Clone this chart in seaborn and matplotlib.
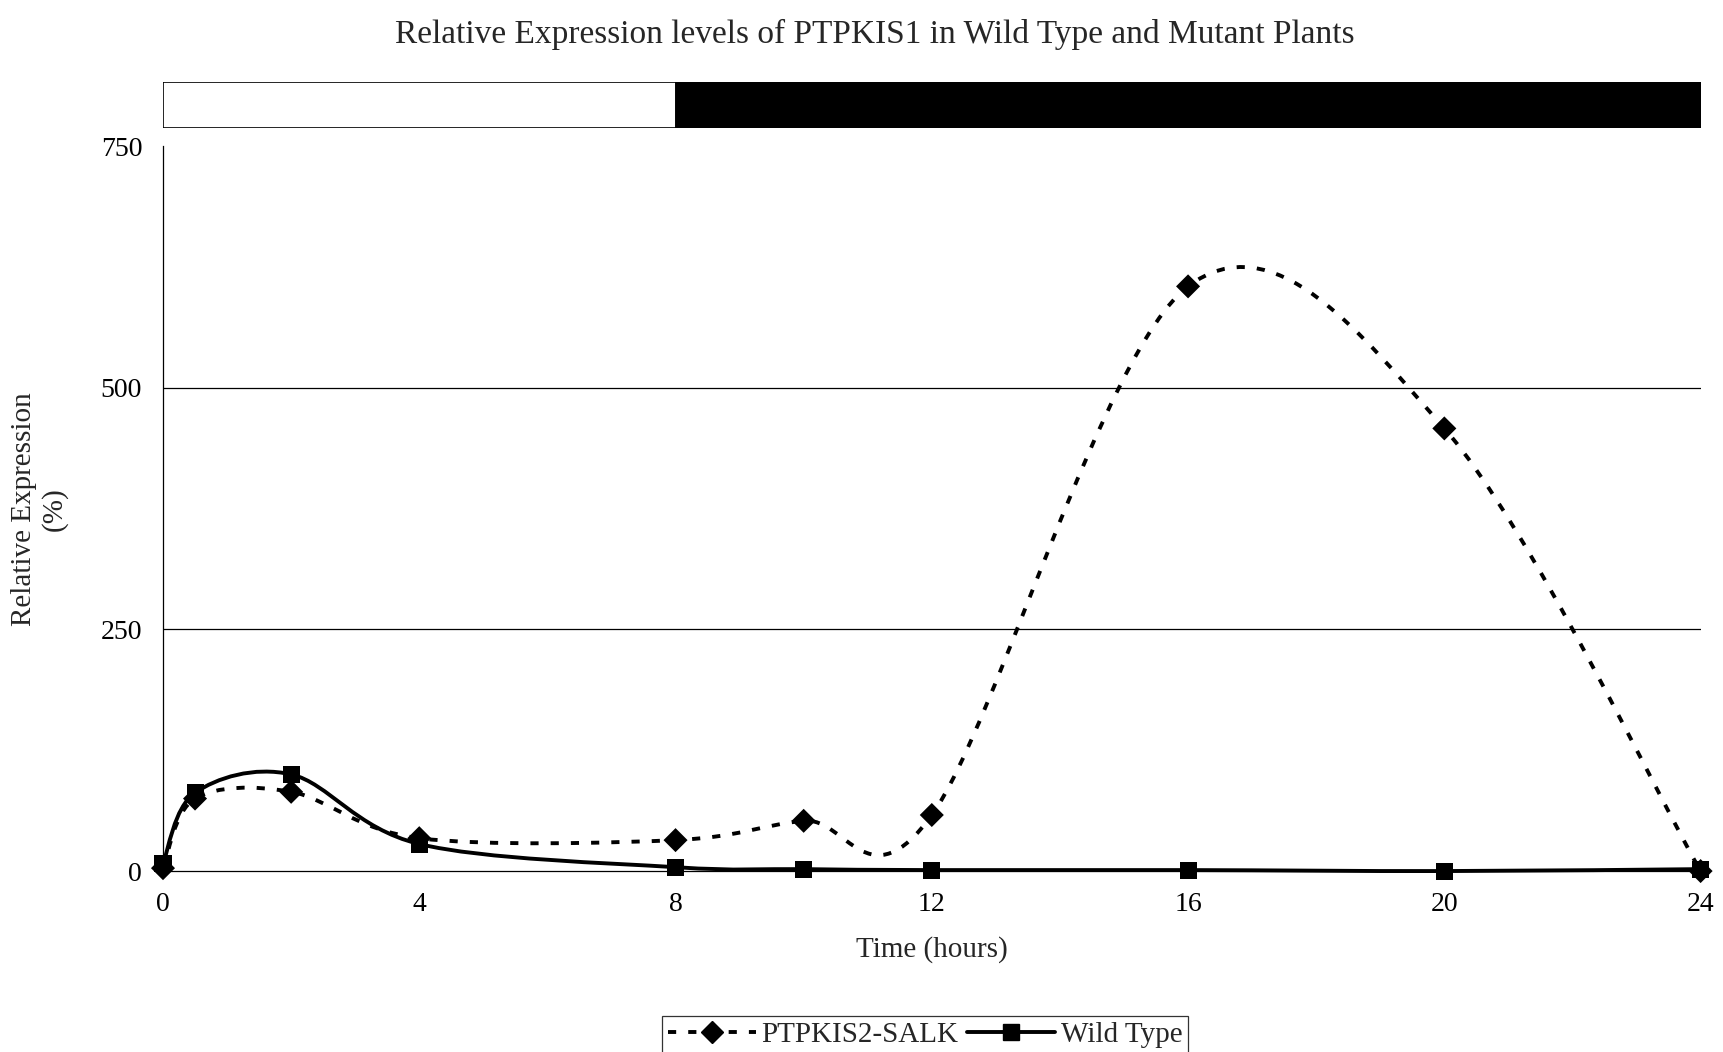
import matplotlib
matplotlib.use('Agg')
import matplotlib.pyplot as plt
from matplotlib.path import Path
from matplotlib.patches import PathPatch
from matplotlib.lines import Line2D
import numpy as np
import pandas as pd
import seaborn as sns

# data
hours = [0, 0.5, 2, 4, 8, 10, 12, 16, 20, 24]
mutant = [3, 75, 82, 34, 32, 52, 58, 605, 458, 0]
wild_type = [8, 81, 100, 28, 4, 2, 1, 1, 0, 2]
series_names = ['PTPKIS2-SALK', 'Wild Type']
light_dark = [(0, 8, 'white'), (8, 24, 'black')]
x_ticks = [0, 4, 8, 12, 16, 20, 24]
y_ticks = [0, 250, 500, 750]

df = pd.DataFrame({
    'hours': hours * 2,
    'value': mutant + wild_type,
    'line': [series_names[0]] * len(hours) + [series_names[1]] * len(hours),
})

sns.set_style('white')
plt.rcParams['font.family'] = ['Liberation Serif', 'DejaVu Serif']


def smooth_path(xs, ys):
    # excel style smoothed line (bezier through the points)
    pts = np.column_stack([xs, ys]).astype(float)
    n = len(pts)
    verts = [pts[0]]
    codes = [Path.MOVETO]
    for i in range(n - 1):
        p0 = pts[max(i - 1, 0)]
        p1 = pts[i]
        p2 = pts[i + 1]
        p3 = pts[min(i + 2, n - 1)]
        verts += [p1 + (p2 - p0) / 6, p2 - (p3 - p1) / 6, p2]
        codes += [Path.CURVE4] * 3
    return Path(verts, codes)


fig = plt.figure(figsize=(17.23, 10.52), dpi=100)
ax = fig.add_axes([0.0946, 0.172, 0.8924, 0.689])

ax.add_patch(PathPatch(smooth_path(hours, mutant), fill=False, color='black',
                       lw=2.8, linestyle=(0, (2.1, 3.1)), clip_on=False))
ax.add_patch(PathPatch(smooth_path(hours, wild_type), fill=False, color='black',
                       lw=2.8, clip_on=False))

sns.scatterplot(data=df, x='hours', y='value', style='line', hue='line',
                markers={series_names[0]: 'D', series_names[1]: 's'},
                palette={series_names[0]: 'black', series_names[1]: 'black'},
                s=150, linewidth=0, legend=False, clip_on=False, zorder=5, ax=ax)

ax.set_xlim(0, 24)
ax.set_ylim(0, 750)
ax.set_xticks(x_ticks)
ax.set_yticks(y_ticks)
for v in y_ticks[1:-1]:
    ax.axhline(v, color='black', lw=0.9, zorder=0)
sns.despine(ax=ax, top=True, right=True)
ax.spines['left'].set_linewidth(0.9)
ax.spines['bottom'].set_linewidth(0.9)
ax.spines['left'].set_color('black')
ax.spines['bottom'].set_color('black')
ax.tick_params(axis='both', direction='out', length=5, width=0.9, colors='black',
               labelsize=20)
ax.tick_params(axis='x', pad=10)
ax.tick_params(axis='y', pad=10)
ax.set_xlabel('Time (hours)', fontsize=21, labelpad=14)
ax.set_ylabel('Relative Expression\n(%)', fontsize=21, labelpad=24, linespacing=1.15)

fig.text(0.508, 0.967, 'Relative Expression levels of PTPKIS1 in Wild Type and Mutant Plants',
         ha='center', va='center', fontsize=24)

# light / dark bar
bar_ax = fig.add_axes([0.0946, 0.878, 0.8924, 0.044])
for start, end, col in light_dark:
    bar_ax.barh(0, end - start, left=start, height=1, color=col,
                edgecolor='black', linewidth=1.2)
bar_ax.set_xlim(0, 24)
bar_ax.set_ylim(-0.5, 0.5)
bar_ax.axis('off')

handles = [
    Line2D([], [], color='black', lw=2.8, linestyle=(0, (2.1, 3.1)), marker='D', markersize=11),
    Line2D([], [], color='black', lw=2.8, marker='s', markersize=12),
]
leg = fig.legend(handles, series_names, loc='lower center', bbox_to_anchor=(0.537, -0.002),
                 ncol=2, fontsize=21, frameon=True, fancybox=False, handlelength=3.0,
                 columnspacing=0.3, handletextpad=0.2, borderpad=0.2, borderaxespad=0)
leg.get_frame().set_edgecolor('black')
leg.get_frame().set_linewidth(0.9)

fig.savefig('out.png', dpi=100)
